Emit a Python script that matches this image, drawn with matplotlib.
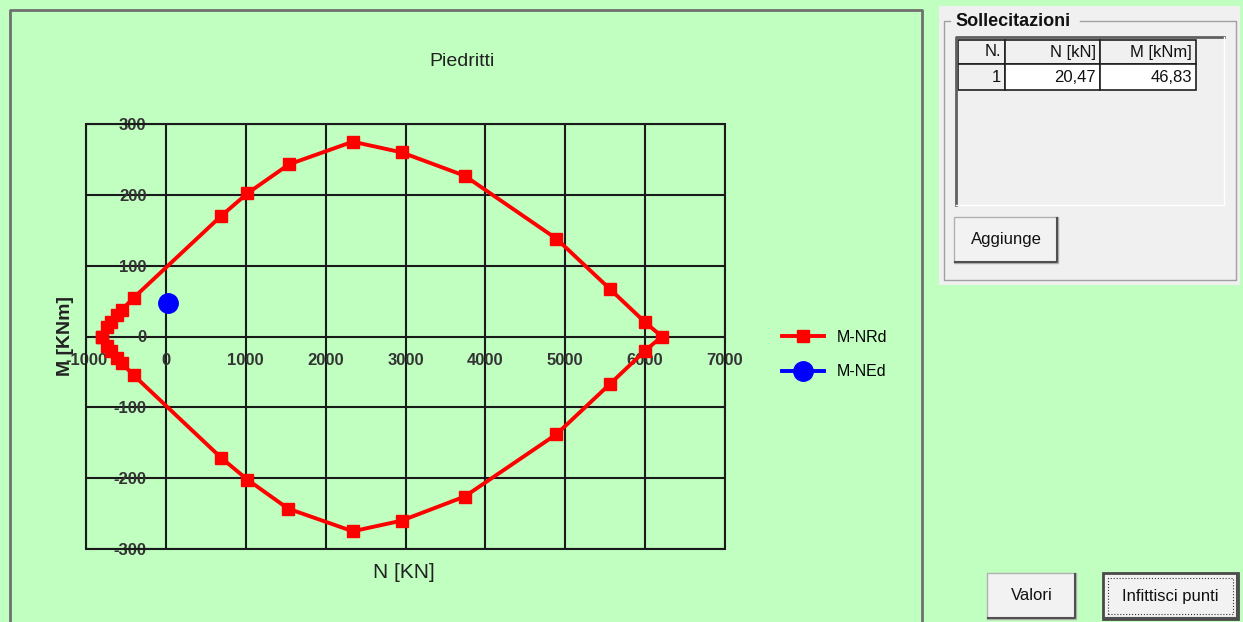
import matplotlib
matplotlib.use("Agg")
import matplotlib.pyplot as plt
from matplotlib.patches import Rectangle
from matplotlib.lines import Line2D

plt.rcParams['font.family'] = ['Liberation Sans', 'DejaVu Sans']
plt.rcParams['axes.unicode_minus'] = False

# M-N interaction domain (N in kN, M in kNm)
n_rd = [-800, -740, -690, -610, -550, -400, 690, 1020, 1540, 2340, 2950, 3740, 4890, 5560, 6000, 6210,
        6000, 5560, 4890, 3740, 2950, 2340, 1530, 1020, 690, -400, -550, -610, -690, -740, -800]
m_rd = [0, 13, 21, 30, 38, 55, 170, 202, 243, 275, 260, 227, 138, 67, 20, 0,
        -20, -67, -138, -226, -260, -275, -243, -202, -171, -55, -38, -30, -21, -13, 0]

# design actions
n_ed = [20.47]
m_ed = [46.83]

x_ticks = [-1000, 0, 1000, 2000, 3000, 4000, 5000, 6000, 7000]
y_ticks = [-300, -200, -100, 0, 100, 200, 300]

table_cols = ["N.", "N [kN]", "M [kNm]"]
table_rows = [["1", "20,47", "46,83"]]

W, H = 1243, 622
GREEN = '#c0ffc0'
PANEL = '#f0f0f0'


def fx(px):
    return px / W


def fy(py):
    return 1 - py / H


fig = plt.figure(figsize=(W / 100, H / 100), dpi=100, facecolor=GREEN)


def box(x0, y0, x1, y1, **kw):
    fig.add_artist(Rectangle((fx(x0), fy(y1)), fx(x1) - fx(x0), fy(y0) - fy(y1),
                             transform=fig.transFigure, **kw))


def seg(xs, ys, **kw):
    fig.add_artist(Line2D([fx(v) for v in xs], [fy(v) for v in ys],
                          transform=fig.transFigure, **kw))


# chart frame
seg([10, 10, 922, 922], [640, 10, 10, 640], color='#707070', lw=2)

ax = fig.add_axes([fx(86), fy(549), fx(725) - fx(86), fy(124) - fy(549)])
ax.set_facecolor(GREEN)
ax.set_xlim(-1000, 7000)
ax.set_ylim(-300, 300)
ax.set_xticks(x_ticks)
ax.set_yticks(y_ticks)
ax.spines['left'].set_position(('data', 0))
ax.spines['bottom'].set_position(('data', 0))
for s in ax.spines.values():
    s.set_visible(False)
ax.add_patch(Rectangle((0, 0), 1, 1, transform=ax.transAxes, fill=False,
                       ec='#1a1a1a', lw=1.5, clip_on=False, zorder=1))
ax.grid(True, color='#1a1a1a', lw=1.5)
ax.set_axisbelow(True)
ax.tick_params(length=0, labelsize=12, labelcolor='#333333')
ax.tick_params(axis='x', pad=12)
ax.tick_params(axis='y', pad=14)
for lab in ax.get_xticklabels() + ax.get_yticklabels():
    lab.set_fontweight('bold')

ax.plot(n_rd, m_rd, '-s', color='#ff0000', lw=2.8, ms=8.5, label='M-NRd', clip_on=False)
ax.plot(n_ed, m_ed, '-o', color='#0000ff', lw=2.8, ms=14, label='M-NEd', clip_on=False)

ax.legend(loc='upper left', bbox_to_anchor=(fx(782), fy(330)), bbox_transform=fig.transFigure,
          frameon=False, fontsize=11.5, handlelength=2.6, labelspacing=1.2,
          handletextpad=0.8, borderaxespad=0, borderpad=0)

fig.text(fx(462), fy(62), "Piedritti", ha='center', va='center', fontsize=14, color='#222222')
fig.text(fx(404), fy(573), "N [KN]", ha='center', va='center', fontsize=15, color='#222222')
fig.text(fx(66), fy(336), "M [KNm]", ha='center', va='center', rotation=90,
         fontsize=14, fontweight='bold', color='#222222')

# right panel
box(939, 6, 1240, 285, fc=PANEL, ec='none')
seg([1080, 1236, 1236, 944, 944, 950], [21, 21, 280, 280, 21, 21], color='#a0a0a0', lw=1)
fig.text(fx(955), fy(21), "Sollecitazioni", ha='left', va='center', fontsize=13,
         fontweight='bold', color='#111111')

# table area (sunken)
box(956, 37, 1224, 205, fc=PANEL, ec='none')
seg([956, 956, 1224], [205, 37, 37], color='#606060', lw=2)
seg([956, 1224, 1224], [205, 205, 37], color='#ffffff', lw=1)

col_edges = [958, 1005, 1100, 1196]
row_edges = [40, 64, 90]
for r in range(len(table_rows) + 1):
    for c in range(len(table_cols)):
        x0, x1 = col_edges[c], col_edges[c + 1]
        y0, y1 = row_edges[r], row_edges[r + 1]
        fc = '#ffffff' if (r > 0 and c > 0) else PANEL
        box(x0, y0, x1, y1, fc=fc, ec='#202020', lw=1.2)
        txt = table_cols[c] if r == 0 else table_rows[r - 1][c]
        fig.text(fx(x1 - 4), fy((y0 + y1) / 2), txt, ha='right', va='center',
                 fontsize=12, color='#111111')


def button(x0, y0, x1, y1, label, default=False):
    box(x0, y0, x1, y1, fc='#f2f2f2', ec='#4a4a4a' if default else '#b0b0b0',
        lw=2 if default else 1)
    seg([x0 + 1, x1 - 1, x1 - 1], [y1 - 1, y1 - 1, y0 + 1], color='#505050', lw=1.5)
    if default:
        box(x0 + 5, y0 + 5, x1 - 5, y1 - 5, fill=False, ec='#333333', lw=0.8, ls=':')
    fig.text(fx((x0 + x1) / 2), fy((y0 + y1) / 2), label, ha='center', va='center',
             fontsize=12, color='#111111')


button(954, 217, 1058, 263, "Aggiunge")
button(987, 573, 1076, 619, "Valori")
button(1103, 573, 1238, 619, "Infittisci punti", default=True)

fig.savefig("out.png", dpi=100, facecolor=GREEN)
